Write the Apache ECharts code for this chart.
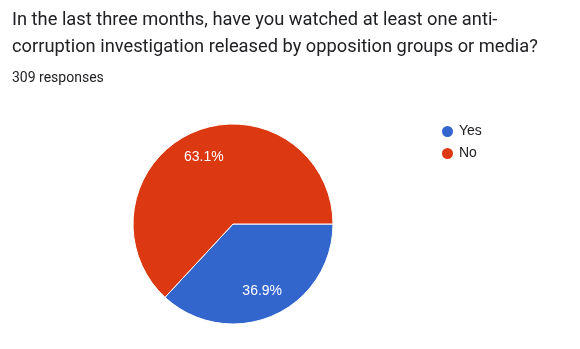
<!DOCTYPE html>
<html><head><meta charset="utf-8">
<script src="https://cdn.jsdelivr.net/npm/echarts@6/dist/echarts.min.js"></script>
<style>html,body{margin:0;padding:0;background:#fff}#c{width:580px;height:349px}</style>
</head><body><div id="c"></div>
<script>
const titleLines = ["In the last three months, have you watched at least one anti-", "corruption investigation released by opposition groups or media?"];
const subtitle = "309 responses";
const categories = ["Yes", "No"];
const values = [36.9, 63.1];
const colors = ["#3366CC", "#DC3912"];

const data = categories.map((n, i) => ({ name: n, value: values[i], itemStyle: { color: colors[i] } }));
const chart = echarts.init(document.getElementById('c'), null, { renderer: 'canvas' });
chart.setOption({
  animation: false,
  title: {
    text: titleLines.join('\n'),
    subtext: subtitle,
    left: 12, top: 7, padding: 0,
    textStyle: { fontFamily: 'Roboto', fontSize: 18.3, fontWeight: 'normal', color: '#202124', lineHeight: 27 },
    subtextStyle: { fontFamily: 'Roboto', fontSize: 14, color: '#202124' },
    itemGap: 10
  },
  legend: {
    orient: 'vertical', left: 440, top: 124, padding: 0,
    icon: 'circle', itemWidth: 13, itemHeight: 13, itemGap: 7,
    textStyle: { fontFamily: 'Arial, Liberation Sans', fontSize: 14, color: '#202124' },
    data: categories
  },
  series: [{
    type: 'pie', center: [233, 224], radius: [0, 100],
    startAngle: 0, clockwise: true,
    label: { show: false }, labelLine: { show: false },
    itemStyle: { borderColor: '#fff', borderWidth: 1 },
    emphasis: { disabled: true },
    data: data
  }, {
    type: 'pie', center: [233, 224], radius: [40, 100],
    startAngle: 0, clockwise: true, silent: true,
    itemStyle: { color: 'rgba(0,0,0,0)' },
    label: { show: true, position: 'inside', formatter: p => p.value.toFixed(1) + '%', color: '#fff',
      fontFamily: 'Arial, Liberation Sans', fontSize: 14 },
    labelLine: { show: false },
    emphasis: { disabled: true },
    data: categories.map((n, i) => ({ name: n, value: values[i], itemStyle: { color: 'rgba(0,0,0,0)' } }))
  }]
});
</script></body></html>
